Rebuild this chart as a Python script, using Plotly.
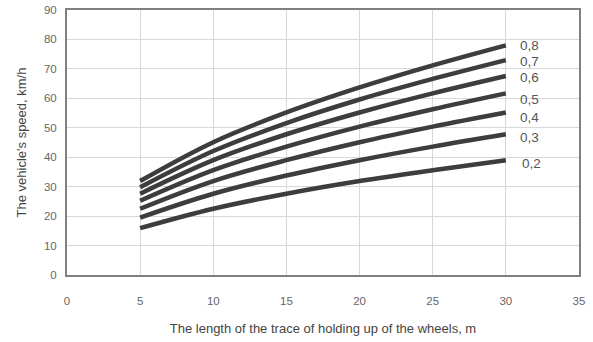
import plotly.graph_objects as go

trace_length = [5, 10, 15, 20, 25, 30]
coef_labels = ["0,2", "0,3", "0,4", "0,5", "0,6", "0,7", "0,8"]
speed_02 = [15.9, 22.5, 27.6, 31.9, 35.6, 39.0]
speed_03 = [19.5, 27.6, 33.8, 39.0, 43.6, 47.8]
speed_04 = [22.5, 31.9, 39.0, 45.1, 50.4, 55.2]
speed_05 = [25.2, 35.6, 43.6, 50.4, 56.3, 61.7]
speed_06 = [27.6, 39.0, 47.8, 55.2, 61.7, 67.6]
speed_07 = [29.8, 42.1, 51.6, 59.6, 66.6, 73.0]
speed_08 = [31.9, 45.1, 55.2, 63.7, 71.2, 78.0]
label_y = [37.8, 46.6, 53.4, 59.5, 67.0, 72.6, 77.8]
x_ticks = [0, 5, 10, 15, 20, 25, 30, 35]
y_ticks = [0, 10, 20, 30, 40, 50, 60, 70, 80, 90]

series = [speed_02, speed_03, speed_04, speed_05, speed_06, speed_07, speed_08]

fig = go.Figure()
for lab, ys in zip(coef_labels, series):
    fig.add_trace(go.Scatter(x=trace_length, y=ys, mode="lines", name=lab,
                             line=dict(color="#3d3d3d", width=4.5, shape="spline"),
                             showlegend=False))

for lab, ly in zip(coef_labels, label_y):
    fig.add_annotation(x=30.8 if lab != "0,2" else 31.0, y=ly, text=lab, showarrow=False,
                       xanchor="left", yanchor="middle",
                       font=dict(family="Liberation Sans, Arial", size=13.5, color="#555"))

axis_font = dict(family="Liberation Sans, Arial", size=11.5, color="#666")
fig.update_layout(
    width=593, height=342,
    margin=dict(l=67, r=14, t=10, b=67),
    paper_bgcolor="white", plot_bgcolor="white",
    font=dict(family="Liberation Sans, Arial", color="#555"),
    xaxis=dict(range=[0, 35], tickvals=x_ticks, showgrid=True, gridcolor="#d8d8d8",
               gridwidth=1, zeroline=False, showline=True, linecolor="#808080", linewidth=2,
               mirror=True, tickfont=axis_font, ticks="", ticklabelstandoff=14,
               automargin=False,
               title=dict(text="The length of the trace of holding up of the wheels, m",
                          font=dict(size=13, color="#444"), standoff=18)),
    yaxis=dict(range=[0, 90], tickvals=y_ticks, showgrid=True, gridcolor="#d8d8d8",
               gridwidth=1, zeroline=False, showline=True, linecolor="#808080", linewidth=2,
               mirror=True, tickfont=axis_font, ticks="", ticklabelstandoff=6,
               automargin=False,
               title=dict(text="The vehicle's speed, km/h",
                          font=dict(size=13, color="#444"), standoff=14)),
)

fig.write_html("out.html", config={"displayModeBar": False},
               post_script="document.body.style.margin='0';")
